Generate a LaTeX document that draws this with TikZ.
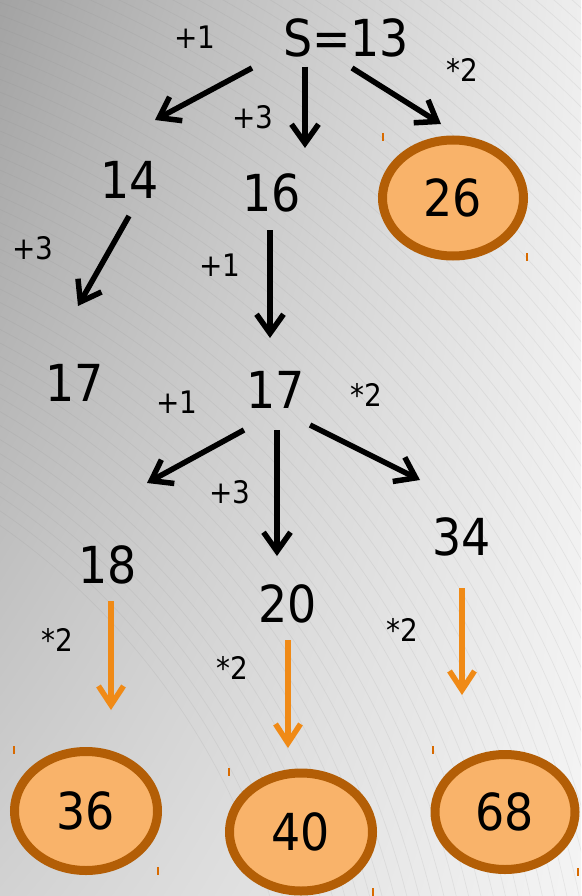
\documentclass[tikz,border=0pt]{standalone}
\usepackage{fontspec}
\setmainfont{DejaVu Sans Condensed}
\usetikzlibrary{arrows.meta,shapes.geometric,shadings}
\definecolor{ofill}{HTML}{F9B36A}
\definecolor{oborder}{HTML}{B35E06}
\definecolor{oarrow}{HTML}{F08A16}
\definecolor{otick}{HTML}{D86A00}
\definecolor{bgul}{HTML}{A3A3A3}
\definecolor{bgur}{HTML}{EEEEEE}
\definecolor{bgll}{HTML}{D2D2D2}
\definecolor{bglr}{HTML}{F4F4F4}
\begin{document}
\begin{tikzpicture}[x=1pt,y=-1pt,
  num/.style={font=\fontsize{51}{51}\selectfont, inner sep=0pt},
  lab/.style={font=\fontsize{31}{31}\selectfont, inner sep=0pt},
  goal/.style={ellipse, draw=oborder, fill=ofill, line width=9pt, inner sep=0pt,
    font=\fontsize{51}{51}\selectfont},
  arr/.style={line width=5.5pt, -{Straight Barb[length=19pt,width=27pt]}},
  oarr/.style={oarrow, line width=5.5pt, -{Straight Barb[length=19pt,width=25pt]}},
  tick/.style={otick, line width=1.5pt},
  bgline/.style={draw=gray, line width=0.7pt, opacity=0.12}]
\shade[upper left=bgul, upper right=bgur, lower left=bgll, lower right=bglr] (0,0) rectangle (581,896);
\begin{scope}
  \clip (0,0) rectangle (581,896);
  \foreach \r in {700,712,...,1900} {
    \draw[bgline] (-400,1100) circle[radius=\r pt];
  }
\end{scope}
\useasboundingbox (0,0) rectangle (581,896);

% nodes
\node[num] (s) at (346,38) {S=13};
\node[num] (n14) at (130,180) {14};
\node[num] (n16) at (272,193) {16};
\node[goal, minimum width=141pt, minimum height=116pt] (n26) at (453,198) {26};
\node[num] (n17a) at (75,383) {17};
\node[num] (n17b) at (276,390) {17};
\node[num] (n18) at (108,565) {18};
\node[num] (n20) at (288,604) {20};
\node[num] (n34) at (462,537) {34};
\node[goal, minimum width=143pt, minimum height=119pt] (n36) at (86,811) {36};
\node[goal, minimum width=143pt, minimum height=118pt] (n40) at (301,832) {40};
\node[goal, minimum width=140pt, minimum height=115pt] (n68) at (505,812) {68};

% labels
\node[lab] (l1) at (195,37) {+1};
\node[lab] (l2) at (253,117) {+3};
\node[lab] (l3) at (462,70) {*2};
\node[lab] (l4) at (33,248) {+3};
\node[lab] (l5) at (220,265) {+1};
\node[lab] (l6) at (177,402) {+1};
\node[lab] (l7) at (366,395) {*2};
\node[lab] (l8) at (230,492) {+3};
\node[lab] (l9) at (57,640) {*2};
\node[lab] (l10) at (232,668) {*2};
\node[lab] (l11) at (402,630) {*2};

% black arrows
\draw[arr] ([shift={(-94,30)}]s.center) -- ([shift={(25,-60)}]n14.center);
\draw[arr] ([shift={(-41,29)}]s.center) -- ([shift={(33,-45)}]n16.center);
\draw[arr] ([shift={(6,30)}]s.center) -- ([shift={(-12,-74)}]n26.center);
\draw[arr] ([shift={(-1,36)}]n14.center) -- ([shift={(3,-77)}]n17a.center);
\draw[arr] ([shift={(-2,37)}]n16.center) -- ([shift={(-6,-52)}]n17b.center);
\draw[arr] ([shift={(-32,40)}]n17b.center) -- ([shift={(39,-82)}]n18.center);
\draw[arr] ([shift={(1,40)}]n17b.center) -- ([shift={(-11,-48)}]n20.center);
\draw[arr] ([shift={(34,35)}]n17b.center) -- ([shift={(-42,-57)}]n34.center);

% orange arrows
\draw[oarr] ([shift={(3,36)}]n18.center) -- ([shift={(25,-101)}]n36.center);
\draw[oarr] ([shift={(0,36)}]n20.center) -- ([shift={(-13,-84)}]n40.center);
\draw[oarr] ([shift={(0,51)}]n34.center) -- ([shift={(-43,-117)}]n68.center);

% small orange ticks at the ellipses' box corners
\draw[tick] ([shift={(-70,-65)}]n26.center) -- ++(0,8);
\draw[tick] ([shift={(74,55)}]n26.center) -- ++(0,8);
\draw[tick] ([shift={(-72,-65)}]n36.center) -- ++(0,8);
\draw[tick] ([shift={(72,56)}]n36.center) -- ++(0,8);
\draw[tick] ([shift={(-72,-64)}]n40.center) -- ++(0,8);
\draw[tick] ([shift={(72,56)}]n40.center) -- ++(0,8);
\draw[tick] ([shift={(-72,-66)}]n68.center) -- ++(0,8);
\draw[tick] ([shift={(73,56)}]n68.center) -- ++(0,8);
\end{tikzpicture}
\end{document}
